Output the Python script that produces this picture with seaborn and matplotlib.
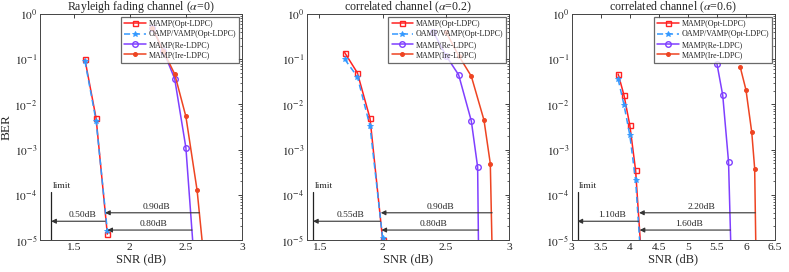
import numpy as np
import pandas as pd
import matplotlib
matplotlib.use("Agg")
import matplotlib.pyplot as plt
import seaborn as sns

sns.set_theme(style="white")
plt.rcParams['font.family'] = ['Liberation Serif', 'DejaVu Serif']
plt.rcParams['mathtext.fontset'] = 'stix'

series_names = ["MAMP(Opt-LDPC)", "OAMP/VAMP(Opt-LDPC)", "MAMP(Re-LDPC)", "MAMP(Ire-LDPC)"]
titles = [r"Rayleigh fading channel ($\alpha$=0)", r"correlated channel ($\alpha$=0.2)",
          r"correlated channel ($\alpha$=0.6)"]

# Panel 1 (alpha = 0)
p1_opt_snr = [1.6, 1.7, 1.8]
p1_opt_ber = [0.10, 0.0049, 1.35e-5]
p1_oamp_snr = [1.6, 1.7, 1.8]
p1_oamp_ber = [0.092, 0.0043, 1.6e-5]
p1_re_snr = [2.2, 2.3, 2.4, 2.5, 2.6]
p1_re_ber = [0.5, 0.15, 0.037, 0.0011, 4.4e-7]
p1_ire_snr = [2.2, 2.3, 2.4, 2.5, 2.6, 2.7]
p1_ire_ber = [0.5, 0.15, 0.047, 0.0054, 1.25e-4, 4e-7]

# Panel 2 (alpha = 0.2)
p2_opt_snr = [1.7, 1.8, 1.9, 2.0]
p2_opt_ber = [0.14, 0.05, 0.0049, 1.0e-5]
p2_oamp_snr = [1.7, 1.8, 1.9, 2.0]
p2_oamp_ber = [0.10, 0.041, 0.0033, 1.1e-5]
p2_re_snr = [2.4, 2.5, 2.6, 2.7, 2.75, 2.76]
p2_re_ber = [0.4, 0.12, 0.045, 0.0043, 4.1e-4, 1e-6]
p2_ire_snr = [2.5, 2.6, 2.7, 2.8, 2.85, 2.87]
p2_ire_ber = [0.4, 0.12, 0.042, 0.0045, 4.9e-4, 1e-6]

# Panel 3 (alpha = 0.6)
p3_opt_snr = [3.8, 3.9, 4.0, 4.1, 4.2]
p3_opt_ber = [0.047, 0.016, 0.0035, 3.5e-4, 4e-6]
p3_oamp_snr = [3.8, 3.9, 4.0, 4.1, 4.2]
p3_oamp_ber = [0.036, 0.0098, 0.0021, 2.1e-4, 2.5e-6]
p3_re_snr = [5.5, 5.6, 5.7, 5.8]
p3_re_ber = [0.08, 0.016, 5.4e-4, 1e-8]
p3_ire_snr = [5.9, 6.0, 6.1, 6.15, 6.18]
p3_ire_ber = [0.068, 0.021, 0.0024, 3.8e-4, 1e-6]

# Gap annotations: (x_start, x_end, y, label)
p1_gaps = [(2.62, 1.78, 4e-5, "0.90dB"), (2.555, 1.80, 1.66e-5, "0.80dB"), (1.78, 1.30, 2.6e-5, "0.50dB")]
p2_gaps = [(2.865, 1.985, 4e-5, "0.90dB"), (2.755, 1.99, 1.66e-5, "0.80dB"), (1.98, 1.45, 2.6e-5, "0.55dB")]
p3_gaps = [(6.16, 4.16, 4e-5, "2.20dB"), (5.73, 4.17, 1.66e-5, "1.60dB"), (4.15, 3.10, 2.6e-5, "1.10dB")]
limits = [1.30, 1.45, 3.10]
xlims = [(1.2, 3.0), (1.4, 3.0), (3.0, 6.5)]
xticks = [[1.5, 2, 2.5, 3], [1.5, 2, 2.5, 3], [3, 3.5, 4, 4.5, 5, 5.5, 6, 6.5]]
xticklabels = [["1.5", "2", "2.5", "3"], ["1.5", "2", "2.5", "3"],
               ["3", "3.5", "4", "4.5", "5", "5.5", "6", "6.5"]]

panels = [
    [(p1_opt_snr, p1_opt_ber), (p1_oamp_snr, p1_oamp_ber), (p1_re_snr, p1_re_ber), (p1_ire_snr, p1_ire_ber)],
    [(p2_opt_snr, p2_opt_ber), (p2_oamp_snr, p2_oamp_ber), (p2_re_snr, p2_re_ber), (p2_ire_snr, p2_ire_ber)],
    [(p3_opt_snr, p3_opt_ber), (p3_oamp_snr, p3_oamp_ber), (p3_re_snr, p3_re_ber), (p3_ire_snr, p3_ire_ber)],
]
gaps = [p1_gaps, p2_gaps, p3_gaps]

colors = ["#FF2222", "#3399FF", "#7F3FFF", "#EE4422"]
styles = [dict(marker='s', ms=3.6, mfc='none', mew=1.0, ls='-'),
          dict(marker='*', ms=4.0, mfc=None, mew=0.6, ls=(0, (4, 2.5))),
          dict(marker='o', ms=4.0, mfc='none', mew=1.0, ls='-'),
          dict(marker='.', ms=5.5, mfc=None, mew=0.8, ls='-')]

fig = plt.figure(figsize=(7.89, 2.72), dpi=100)
lefts = [40 / 789, 306.7 / 789, 571.7 / 789]
widths = [202 / 789, 202.6 / 789, 203.3 / 789]
bottom = 1 - 240 / 272
height = 226 / 272

for i in range(3):
    ax = fig.add_axes([lefts[i], bottom, widths[i], height])
    for k, (snr, ber) in enumerate(panels[i]):
        df = pd.DataFrame({"SNR": snr, "BER": ber})
        n_before = len(ax.lines)
        sns.lineplot(data=df, x="SNR", y="BER", ax=ax, color=colors[k], linewidth=1.1,
                     label=series_names[k], estimator=None, sort=False)
        ln = ax.lines[n_before]
        st = styles[k]
        ln.set_linestyle(st['ls'])
        ln.set_marker(st['marker'])
        ln.set_markersize(st['ms'])
        ln.set_markeredgecolor(colors[k])
        ln.set_markeredgewidth(st['mew'])
        ln.set_markerfacecolor(st['mfc'] if st['mfc'] else colors[k])
    ax.set_yscale('log')
    ax.set_ylim(1e-5, 1)
    ax.set_xlim(*xlims[i])
    ax.set_xticks(xticks[i])
    ax.set_xticklabels(xticklabels[i])
    ax.set_yticks([1e-5, 1e-4, 1e-3, 1e-2, 1e-1, 1])
    ax.set_yticklabels([r"$10^{-5}$", r"$10^{-4}$", r"$10^{-3}$", r"$10^{-2}$", r"$10^{-1}$", r"$10^{0}$"])
    ax.tick_params(axis='both', which='both', direction='in', top=True, right=True,
                   labelsize=8.2, colors='#222222', pad=2)
    ax.tick_params(axis='both', which='major', length=3, width=0.6)
    ax.tick_params(axis='y', which='minor', length=1.8, width=0.5)
    ax.minorticks_on()
    ax.xaxis.set_minor_locator(matplotlib.ticker.NullLocator())
    for sp in ax.spines.values():
        sp.set_color('#444444')
        sp.set_linewidth(0.7)
    ax.set_title(titles[i], fontsize=8.6, pad=3)
    ax.set_xlabel("SNR (dB)", fontsize=9, labelpad=1)
    if i == 0:
        ax.set_ylabel("BER", fontsize=9.5, labelpad=1)
    else:
        ax.set_ylabel("")

    # limit line
    ax.plot([limits[i], limits[i]], [1e-5, 1.15e-4], color='#222222', linewidth=0.9)
    ax.text(limits[i] + 0.008 * (xlims[i][1] - xlims[i][0]), 1.25e-4, "limit", fontsize=6.8,
            ha='left', va='bottom')
    # gap arrows
    for (xs, xe, yv, lab) in gaps[i]:
        ax.annotate("", xy=(xe, yv), xytext=(xs, yv),
                    arrowprops=dict(arrowstyle='-|>', color='#333333', lw=0.8,
                                    mutation_scale=7, shrinkA=0, shrinkB=0))
        ax.text((xs + xe) / 2 + 0.02 * (xlims[i][1] - xlims[i][0]), yv * 1.12, lab,
                fontsize=6.8, ha='center', va='bottom')

    leg = ax.legend(loc='upper right', fontsize=5.8, frameon=True, fancybox=False,
                    handlelength=2.7, handletextpad=0.3, borderpad=0.4, labelspacing=0.3,
                    borderaxespad=0.35)
    leg.get_frame().set_edgecolor('#444444')
    leg.get_frame().set_linewidth(0.9)

fig.savefig("out.png", dpi=100, facecolor='white')
